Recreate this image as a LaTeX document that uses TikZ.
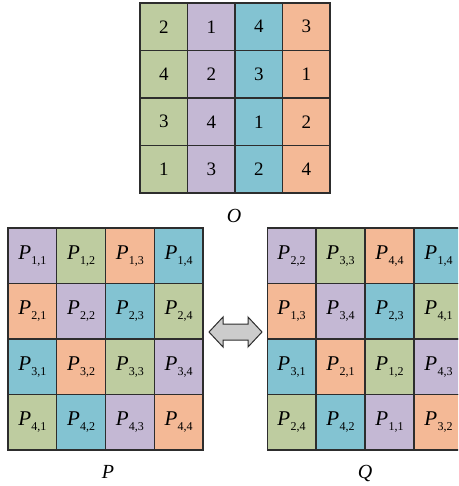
\documentclass[tikz,border=0pt]{standalone}
\usepackage{fontspec}
\setmainfont{Liberation Serif}
\definecolor{cg}{RGB}{190,204,160}
\definecolor{cp}{RGB}{196,184,212}
\definecolor{cb}{RGB}{131,195,210}
\definecolor{co}{RGB}{244,185,150}
\definecolor{gl}{RGB}{45,45,45}
\newcommand{\pcell}[2]{\textit{P}\kern0.3pt\raisebox{-5pt}{\fontsize{12}{12}\selectfont #1,#2}}
\begin{document}
\begin{tikzpicture}[x=1pt,y=-1pt,
  ocell/.style={draw=gl,line width=1.2pt,minimum width=47.5pt,minimum height=47.5pt,inner sep=0pt,font=\fontsize{19}{21}\selectfont},
  pq/.style={draw=gl,line width=1.2pt,minimum width=48.75pt,minimum height=55.5pt,inner sep=0pt,font=\fontsize{21}{23}\selectfont},
  lab/.style={font=\fontsize{20}{22}\selectfont\itshape},
  arr/.style={draw=gl,fill=gray!40,line width=1pt,line join=miter}]
\useasboundingbox (0,0) rectangle (458,486);
\begin{scope}
\clip (0,0) rectangle (458,486);
% O grid
\foreach \r/\a/\b/\c/\d in {1/2/1/4/3,2/4/2/3/1,3/3/4/1/2,4/1/3/2/4}{
  \node[ocell,fill=cg] (o\r1) at ({140+47.5*0.5},{3+47.5*(\r-0.5)}) {\a};
  \node[ocell,fill=cp] (o\r2) at ({140+47.5*1.5},{3+47.5*(\r-0.5)}) {\b};
  \node[ocell,fill=cb] (o\r3) at ({140+47.5*2.5},{3+47.5*(\r-0.5)}) {\c};
  \node[ocell,fill=co] (o\r4) at ({140+47.5*3.5},{3+47.5*(\r-0.5)}) {\d};
}
% P grid
\foreach \r/\ca/\cb/\cc/\cd in {1/cp/cg/co/cb,2/co/cp/cb/cg,3/cb/co/cg/cp,4/cg/cb/cp/co}{
  \node[pq,fill=\ca] (p\r1) at ({8+48.75*0.5},{228+55.5*(\r-0.5)}) {\pcell{\r}{1}};
  \node[pq,fill=\cb] (p\r2) at ({8+48.75*1.5},{228+55.5*(\r-0.5)}) {\pcell{\r}{2}};
  \node[pq,fill=\cc] (p\r3) at ({8+48.75*2.5},{228+55.5*(\r-0.5)}) {\pcell{\r}{3}};
  \node[pq,fill=\cd] (p\r4) at ({8+48.75*3.5},{228+55.5*(\r-0.5)}) {\pcell{\r}{4}};
}
% Q grid
\foreach \r/\ca/\ia/\ja/\cb/\ib/\jb/\cc/\ic/\jc/\cd/\id/\jd in {
  1/cp/2/2/cg/3/3/co/4/4/cb/1/4,
  2/co/1/3/cp/3/4/cb/2/3/cg/4/1,
  3/cb/3/1/co/2/1/cg/1/2/cp/4/3,
  4/cg/2/4/cb/4/2/cp/1/1/co/3/2}{
  \node[pq,fill=\ca] (q\r1) at ({267+49*0.5},{228+55.5*(\r-0.5)}) {\pcell{\ia}{\ja}};
  \node[pq,fill=\cb] (q\r2) at ({267+49*1.5},{228+55.5*(\r-0.5)}) {\pcell{\ib}{\jb}};
  \node[pq,fill=\cc] (q\r3) at ({267+49*2.5},{228+55.5*(\r-0.5)}) {\pcell{\ic}{\jc}};
  \node[pq,fill=\cd] (q\r4) at ({267+49*3.5},{228+55.5*(\r-0.5)}) {\pcell{\id}{\jd}};
}
\end{scope}
% labels
\node[lab] (lo) at (234,216) {O};
\node[lab] (lp) at (108,472) {P};
\node[lab] (lq) at (365,473) {Q};
% double arrow
\draw[arr] (209,332) -- (223,317) -- (223,324) -- (248,324) -- (248,317) -- (262,332)
  -- (248,347) -- (248,340) -- (223,340) -- (223,347) -- cycle;
\end{tikzpicture}
\end{document}
